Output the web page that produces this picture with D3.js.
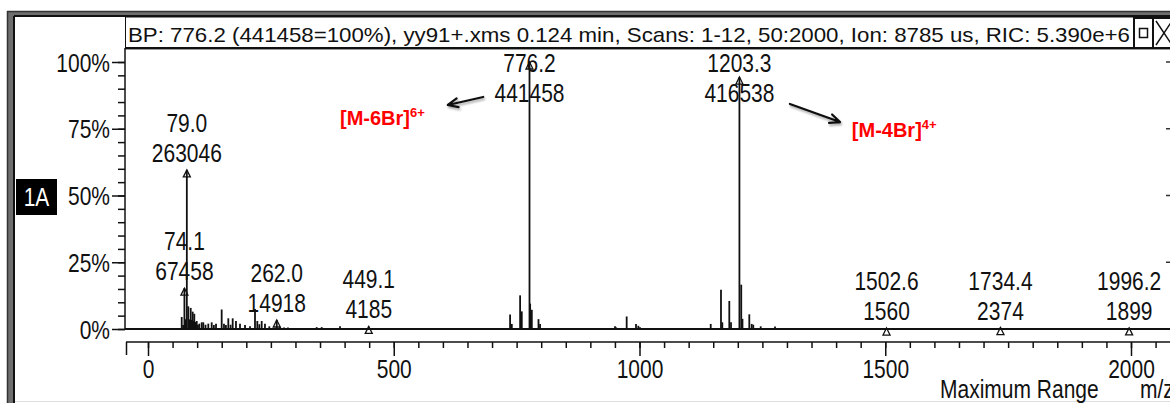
<!DOCTYPE html>
<html><head><meta charset="utf-8">
<script src="https://cdn.jsdelivr.net/npm/d3@7"></script>
<style>html,body{margin:0;padding:0;background:#fff;overflow:hidden}</style>
</head><body>
<svg id="c" width="1170" height="403"></svg>
<script>
// ---- spectrum data ----
const titleText = "BP: 776.2 (441458=100%), yy91+.xms 0.124 min, Scans: 1-12, 50:2000, Ion: 8785 us, RIC: 5.390e+6";
const basePeakCounts = 441458;

// labelled peaks (m/z, raw counts)
const labelledMz     = [74.1, 79.0, 262.0, 449.1, 776.2, 1203.3, 1502.6, 1734.4, 1996.2];
const labelledCounts = [67458, 263046, 14918, 4185, 441458, 416538, 1560, 2374, 1899];

// unlabelled peaks (m/z, relative abundance %)
const minorMz = [
  68.6, 71.5, 76.5, 77.6, 82.0, 84.5, 86.9, 88.5, 90.9, 92.5, 94.2, 96.5, 99.1, 101.5, 104.4, 109.3,
  112.5, 117.0, 122.7, 129.6, 134.0, 138.4, 149.9, 154.6, 158.5, 163.4, 168.0, 172.3, 179.0, 187.2,
  197.4, 207.5, 217.7, 222.4, 226.5, 231.3, 238.0, 246.8, 268.6, 276.7, 284.8, 343.2, 353.4, 390.6,
  736.7, 740.2, 757.1, 760.5, 777.5, 780.9, 794.5, 797.7,
  950.2, 952.5, 973.9, 992.9, 997.6, 1001.0,
  1144.9, 1165.8, 1168.5, 1182.7, 1186.2, 1207.0, 1209.5, 1223.4, 1228.3, 1231.5, 1246.6, 1275.7
];
const minorPct = [
  4.5, 1.5, 3.3, 3.8, 8.5, 3.6, 7.9, 3.4, 6.5, 3.0, 5.7, 2.6, 3.0, 1.6, 2.0, 2.5,
  2.5, 1.6, 2.0, 2.5, 1.5, 2.0, 7.3, 2.0, 1.5, 4.0, 1.6, 4.0, 3.0, 2.0,
  1.5, 1.0, 7.5, 3.0, 1.8, 3.0, 2.0, 1.0, 0.8, 0.6, 0.6, 0.7, 0.7, 1.0,
  5.4, 1.9, 12.6, 6.6, 9.5, 7.2, 3.7, 1.9,
  1.0, 0.6, 4.7, 1.9, 1.2, 0.7,
  1.9, 14.7, 2.5, 10.5, 2.5, 16.6, 3.8, 5.5, 1.9, 1.6, 1.0, 0.9
];

const xTickLabels = [0, 500, 1000, 1500, 2000];
const yTickLabels = [0, 25, 50, 75, 100];

// ion annotations: label, charge, text anchor (m/z, %), arrow tail and tip (m/z, %)
const ionNames   = ["[M-6Br]", "[M-4Br]"];
const ionCharges = ["6+", "4+"];
const ionTextMz  = [390.6, 1432];
const ionTextPct = [76.4, 71.9];
const arrowFrom  = [[682, 86.9], [1306, 84.3]];
const arrowTo    = [[610, 83.9], [1408, 77.5]];

// ---- layout ----
const svg = d3.select("#c");
const FONT = "'Liberation Sans', Arial, Helvetica, sans-serif";
const SX = 0.84;           // narrow bitmap-style lettering
const x = d3.scaleLinear().domain([0, 2000]).range([148, 1131]);
const y = d3.scaleLinear().domain([0, 100]).range([329, 62]);
const pct = c => c / basePeakCounts * 100;

function label(parent, px, py, s, anchor, size) {
  return parent.append("text")
    .attr("transform", `translate(${px},${py}) scale(${SX},1)`)
    .attr("text-anchor", anchor || "middle")
    .attr("font-family", FONT)
    .attr("font-size", size || 25)
    .attr("fill", "#111")
    .text(s);
}

// window frame
svg.append("rect").attr("x", 7).attr("y", 11).attr("width", 1170).attr("height", 6).attr("fill", "#6e6e6e");
svg.append("rect").attr("x", 7).attr("y", 11).attr("width", 8).attr("height", 400).attr("fill", "#6e6e6e");
svg.append("line").attr("x1", 7).attr("x2", 1170).attr("y1", 11.5).attr("y2", 11.5).attr("stroke", "#333").attr("stroke-width", 1.5);
svg.append("line").attr("x1", 7.5).attr("x2", 7.5).attr("y1", 11).attr("y2", 403).attr("stroke", "#333").attr("stroke-width", 1.5);
svg.append("line").attr("x1", 14).attr("x2", 1170).attr("y1", 16).attr("y2", 16).attr("stroke", "#111").attr("stroke-width", 2);
svg.append("line").attr("x1", 14).attr("x2", 14).attr("y1", 16).attr("y2", 403).attr("stroke", "#111").attr("stroke-width", 2);
svg.append("line").attr("x1", 15).attr("x2", 1170).attr("y1", 401.5).attr("y2", 401.5).attr("stroke", "#ddd").attr("stroke-width", 1);

// title bar
svg.append("rect").attr("x", 125.5).attr("y", 17).attr("width", 1008).attr("height", 31)
  .attr("fill", "#fff").attr("stroke", "#111").attr("stroke-width", 1);
svg.append("line").attr("x1", 125).attr("x2", 1170).attr("y1", 48).attr("y2", 48).attr("stroke", "#111").attr("stroke-width", 2);
svg.append("line").attr("x1", 125).attr("x2", 1170).attr("y1", 49.5).attr("y2", 49.5).attr("stroke", "#999").attr("stroke-width", 1);
svg.append("text").attr("x", 128).attr("y", 42)
  .attr("font-family", FONT).attr("font-size", 21).attr("fill", "#111")
  .attr("textLength", 1002).attr("lengthAdjust", "spacingAndGlyphs")
  .text(titleText);
svg.append("rect").attr("x", 1134).attr("y", 18).attr("width", 19).attr("height", 30).attr("fill", "none").attr("stroke", "#111").attr("stroke-width", 2);
svg.append("rect").attr("x", 1139.5).attr("y", 28.5).attr("width", 8).attr("height", 9).attr("fill", "none").attr("stroke", "#111").attr("stroke-width", 1.5);
svg.append("rect").attr("x", 1153).attr("y", 18).attr("width", 22).attr("height", 30).attr("fill", "none").attr("stroke", "#111").attr("stroke-width", 2);
svg.append("path").attr("d", "M1156,21L1172,45M1172,21L1156,45").attr("stroke", "#111").attr("stroke-width", 1.5);

// trace tag
svg.append("rect").attr("x", 16).attr("y", 179).attr("width", 41).attr("height", 36).attr("fill", "#000");
label(svg, 36.5, 206, "1A", "middle", 25).attr("fill", "#fff");

// y axis
const gyMinor = svg.append("g").attr("transform", "translate(125,0)")
  .call(d3.axisLeft(y).tickValues(d3.range(0, 101, 5)).tickSize(7).tickSizeOuter(0).tickFormat(""));
gyMinor.select(".domain").remove();
const gyMajor = svg.append("g").attr("transform", "translate(125,0)")
  .call(d3.axisLeft(y).tickValues(yTickLabels).tickSize(13).tickSizeOuter(0).tickFormat(d => d + "%"));
gyMajor.select(".domain").remove();
[gyMinor, gyMajor].forEach(g => g.selectAll("line").attr("stroke", "#111").attr("stroke-width", 1.5));
gyMajor.selectAll("text")
  .attr("x", -15 / SX).attr("dy", "0.36em")
  .attr("transform", `scale(${SX},1)`)
  .attr("font-family", FONT).attr("font-size", 25).attr("fill", "#111");
svg.append("line").attr("x1", 125).attr("x2", 125).attr("y1", 48).attr("y2", y(0))
  .attr("stroke", "#111").attr("stroke-width", 1.5);

// right-hand tick stubs
svg.append("g").selectAll("line").data(yTickLabels.filter(d => d > 0)).join("line")
  .attr("x1", 1166).attr("x2", 1170).attr("y1", d => y(d)).attr("y2", d => y(d))
  .attr("stroke", "#333").attr("stroke-width", 1.5);

// x axis (m/z)
const axisY = 342;
const gxMinor = svg.append("g").attr("transform", `translate(0,${axisY})`)
  .call(d3.axisBottom(x).tickValues(d3.range(0, 2051, 50)).tickSize(6).tickSizeOuter(0).tickFormat(""));
gxMinor.select(".domain").remove();
const gxMajor = svg.append("g").attr("transform", `translate(0,${axisY})`)
  .call(d3.axisBottom(x).tickValues(xTickLabels).tickSize(14).tickSizeOuter(0).tickFormat(d3.format("d")));
gxMajor.select(".domain").remove();
[gxMinor, gxMajor].forEach(g => g.selectAll("line").attr("stroke", "#111").attr("stroke-width", 1.5));
gxMajor.selectAll("text")
  .attr("y", 36).attr("dy", 0)
  .attr("transform", `scale(${SX},1)`)
  .attr("font-family", FONT).attr("font-size", 25).attr("fill", "#111");
svg.append("line").attr("x1", 126).attr("x2", 1170).attr("y1", axisY).attr("y2", axisY)
  .attr("stroke", "#111").attr("stroke-width", 1.5);
svg.append("line").attr("x1", 126.5).attr("x2", 126.5).attr("y1", axisY).attr("y2", axisY + 13)
  .attr("stroke", "#111").attr("stroke-width", 1.5);
label(svg, 940, 398, "Maximum Range", "start", 25);
label(svg, 1140, 398, "m/z", "start", 25);

// baseline
svg.append("line").attr("x1", 125).attr("x2", 1170).attr("y1", y(0)).attr("y2", y(0))
  .attr("stroke", "#111").attr("stroke-width", 2);

// sticks
const minor = minorMz.map((m, i) => ({ mz: m, p: minorPct[i] }));
const major = labelledMz.map((m, i) => ({ mz: m, counts: labelledCounts[i], p: pct(labelledCounts[i]) }));
const gPeaks = svg.append("g").attr("stroke", "#111").attr("stroke-width", 1.8);
gPeaks.selectAll("line.minor").data(minor).join("line").attr("class", "minor")
  .attr("x1", d => x(d.mz)).attr("x2", d => x(d.mz)).attr("y1", y(0)).attr("y2", d => y(d.p));
gPeaks.selectAll("line.major").data(major).join("line").attr("class", "major")
  .attr("x1", d => x(d.mz)).attr("x2", d => x(d.mz)).attr("y1", y(0)).attr("y2", d => y(d.p));

// peak markers
svg.append("g").selectAll("path").data(major).join("path")
  .attr("d", d => { const px = x(d.mz), py = y(d.p); return `M${px},${py}L${px + 3.5},${py + 7}L${px - 3.5},${py + 7}Z`; })
  .attr("fill", "none").attr("stroke", "#111").attr("stroke-width", 1.3);

// peak labels: m/z over raw counts
const gLab = svg.append("g");
major.forEach(d => {
  const px = x(d.mz), top = y(d.p);
  let b1 = top - 38, b2 = top - 8;
  if (b1 < 72) { b1 = 72; b2 = 102; }
  label(gLab, px, b1, d.mz.toFixed(1));
  label(gLab, px, b2, String(d.counts));
});

// ion annotations
const defs = svg.append("defs");
const f = defs.append("filter").attr("id", "sh").attr("x", "-20%").attr("y", "-50%").attr("width", "140%").attr("height", "200%");
f.append("feDropShadow").attr("dx", 1).attr("dy", 2).attr("stdDeviation", 1.2).attr("flood-color", "#000").attr("flood-opacity", 0.35);

ionNames.forEach((nm, i) => {
  const tx = x(ionTextMz[i]), ty = y(ionTextPct[i]);
  const t = svg.append("text").attr("x", tx).attr("y", ty)
    .attr("font-family", FONT).attr("font-weight", "bold").attr("font-size", 20).attr("fill", "#ff0000");
  t.append("tspan").text(nm);
  t.append("tspan").attr("font-size", 13).attr("dy", -8).text(ionCharges[i]);

  const x1 = x(arrowFrom[i][0]), y1 = y(arrowFrom[i][1]);
  const x2 = x(arrowTo[i][0]), y2 = y(arrowTo[i][1]);
  const a = Math.atan2(y2 - y1, x2 - x1), L = 11, w = 0.42;
  const hx1 = x2 - L * Math.cos(a - w), hy1 = y2 - L * Math.sin(a - w);
  const hx2 = x2 - L * Math.cos(a + w), hy2 = y2 - L * Math.sin(a + w);
  svg.append("path")
    .attr("d", `M${x1},${y1}L${x2},${y2}M${hx1},${hy1}L${x2},${y2}L${hx2},${hy2}`)
    .attr("fill", "none").attr("stroke", "#111").attr("stroke-width", 2.2)
    .attr("stroke-linecap", "round").attr("stroke-linejoin", "round")
    .attr("filter", "url(#sh)");
});
</script>
</body></html>
